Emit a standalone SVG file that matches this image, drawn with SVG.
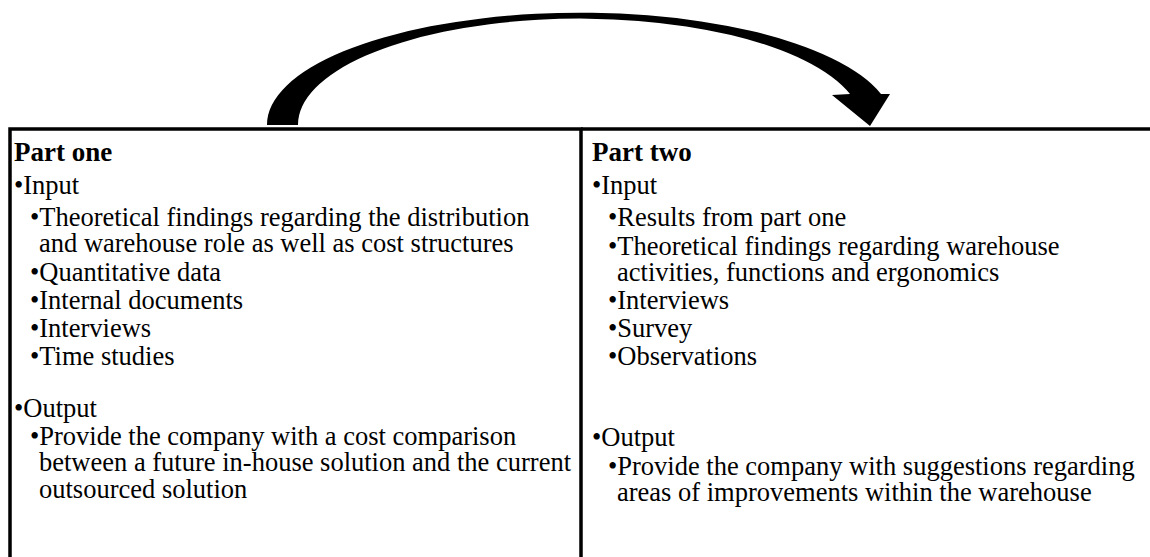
<svg xmlns="http://www.w3.org/2000/svg" width="1150" height="557" viewBox="0 0 1150 557">
<style>
text{font-family:"Liberation Serif","Times New Roman",serif;font-size:26.5px;fill:#000}
.h{font-weight:bold;font-size:27px}
.frame{fill:none;stroke:#000;stroke-width:3.5}
</style>
<rect width="1150" height="557" fill="#fff"/>
<g id="connectors">
<path d="M267,125 A313,112 0 0 1 881,94 L890,94 L870,126 L832,95 L850,94 A282,106 0 0 0 298,125 Z" fill="#000"/>
</g>
<g id="part-one">
<path class="frame" d="M10,600 L10,129 L581,129 L581,600"/>
<text x="14" y="161" class="h">Part one</text>
<text x="14" y="194">•Input</text>
<text x="30" y="226">•Theoretical findings regarding the distribution</text>
<text x="39" y="252">and warehouse role as well as cost structures</text>
<text x="30" y="281">•Quantitative data</text>
<text x="30" y="309">•Internal documents</text>
<text x="30" y="337">•Interviews</text>
<text x="30" y="365">•Time studies</text>
<text x="14" y="417">•Output</text>
<text x="30" y="445">•Provide the company with a cost comparison</text>
<text x="39" y="471">between a future in-house solution and the current</text>
<text x="39" y="498">outsourced solution</text>
</g>
<g id="part-two">
<path class="frame" d="M581,129 L1160,129"/>
<text x="592" y="161" class="h">Part two</text>
<text x="592" y="194">•Input</text>
<text x="608" y="226">•Results from part one</text>
<text x="608" y="255">•Theoretical findings regarding warehouse</text>
<text x="617" y="281">activities, functions and ergonomics</text>
<text x="608" y="309">•Interviews</text>
<text x="608" y="337">•Survey</text>
<text x="608" y="365">•Observations</text>
<text x="592" y="446">•Output</text>
<text x="608" y="475">•Provide the company with suggestions regarding</text>
<text x="617" y="501">areas of improvements within the warehouse</text>
</g>
</svg>
